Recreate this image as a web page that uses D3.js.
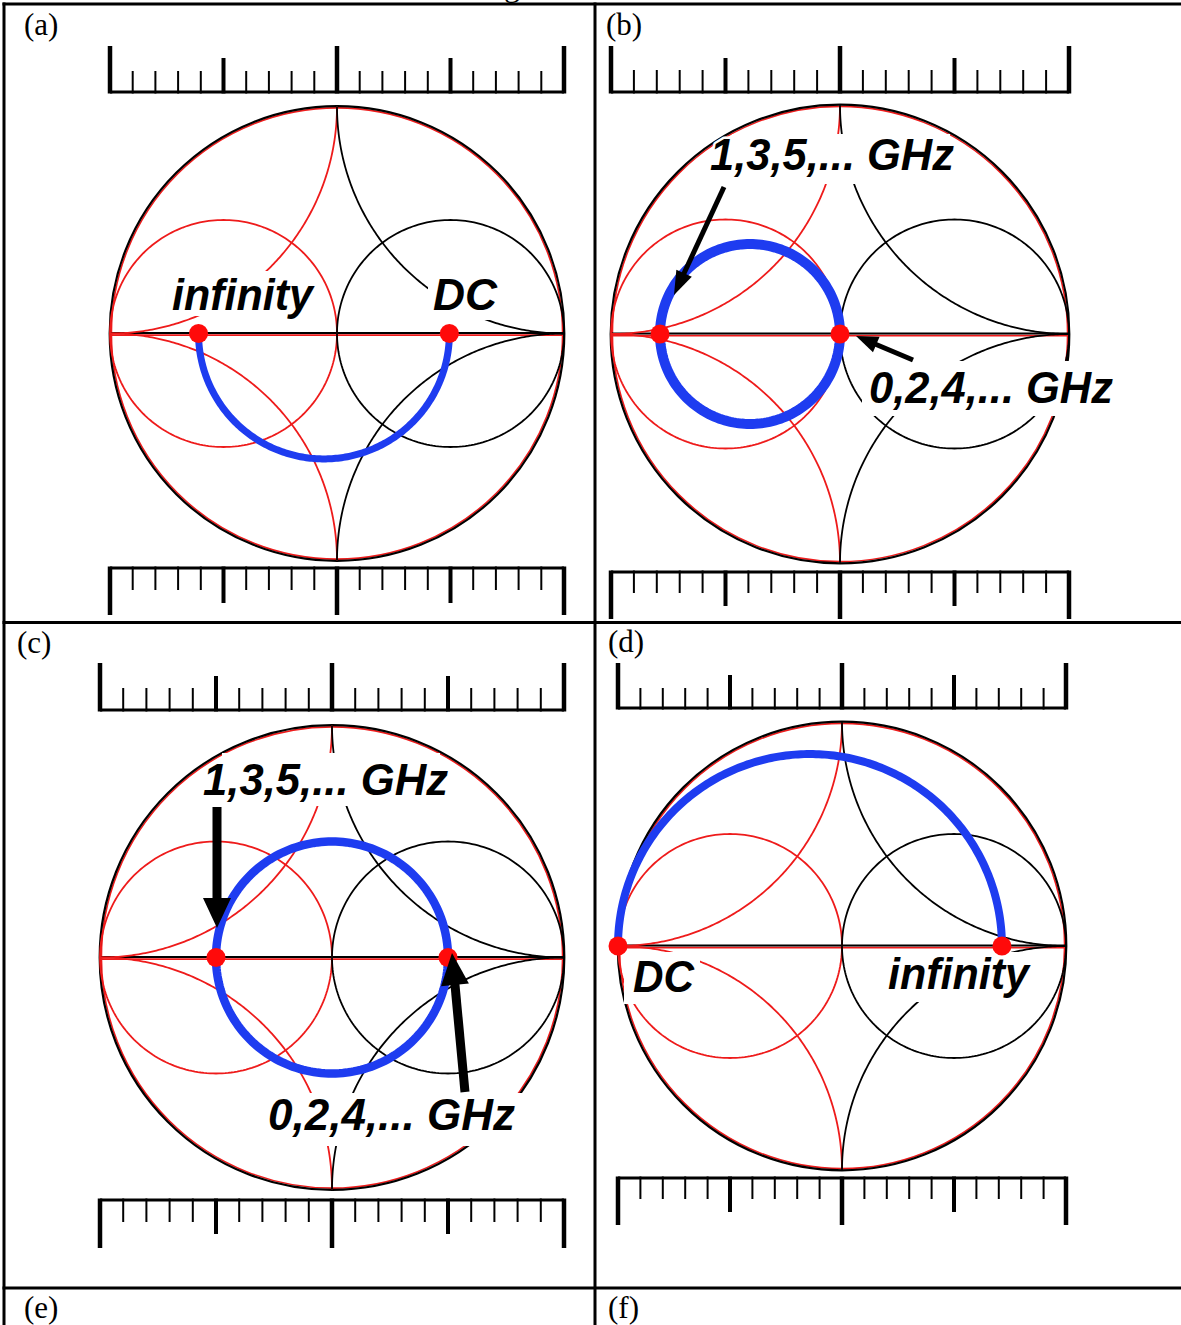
<!DOCTYPE html>
<html>
<head>
<meta charset="utf-8">
<script src="https://cdn.jsdelivr.net/npm/d3@7"></script>
<style>
  html, body { margin: 0; padding: 0; background: #fff; }
  svg { display: block; }
</style>
</head>
<body>
<svg id="fig" width="1181" height="1325"></svg>
<script>
// ---- data -------------------------------------------------------------
// Panel captions of the table cells
const panelCaptions = ["(a)", "(b)", "(c)", "(d)", "(e)", "(f)"];

// Reflection coefficient (real axis) of the two marked frequency points in each panel
const pointsA = [-0.61, 0.495];
const pointsB = [-0.786, 0];
const pointsC = [-0.5, 0.5];
const pointsD = [-1, 0.714];

// Part of the circle through the two points that the trajectory follows
const traceParts = ["lower", "full", "full", "upper"];

// Annotation texts of each panel
const textsA = ["infinity", "DC"];
const textsB = ["1,3,5,... GHz", "0,2,4,... GHz"];
const textsC = ["1,3,5,... GHz", "0,2,4,... GHz"];
const textsD = ["DC", "infinity"];

// Smith-chart grid: normalised resistance (conductance) circles and reactance (susceptance) arcs
const gridCircles = [1];
const gridArcs = [1, -1];

// Ruler scale: 20 divisions, medium tick every 5, long tick every 10
const rulerDivisions = 20;

// ---- layout -----------------------------------------------------------
const RED = "#ee1b1b";
const BLUE = "#1e3cf0";
const LABEL_FONT = "'Liberation Sans', Arial, sans-serif";
const CAPTION_FONT = "'Liberation Serif', 'Times New Roman', serif";

// chart centre / radius, ruler levels [baseline, small, medium, long], trace width
const panels = [
  { cx: 337, cy: 333.5, r: 227, top: [92, 71, 58, 46], bottom: [568, 590, 603, 615], trace: 7,
    points: pointsA, part: traceParts[0], texts: textsA,
    labels: [
      { dx: -165, base: -23.5, w: 141, box: [-172, -21, -62.5, -17.5] },
      { dx: 96, base: -23.5, w: 64, box: [91, 165, -61.5, -13.5] }
    ],
    arrows: [] },
  { cx: 840, cy: 334, r: 229, top: [92, 70, 58, 46], bottom: [572, 593, 606, 619], trace: 10,
    points: pointsB, part: traceParts[1], texts: textsB,
    labels: [
      { dx: -130, base: -164, w: 244, box: [-108, 110, -200, -150] },
      { dx: 29, base: 69, w: 244, box: [22, 278, 27, 82] }
    ],
    arrows: [
      { from: [-116, -147], to: [-166, -39], w: 5, hl: 24, hw: 17 },
      { from: [73, 26], to: [16, 2], w: 5, hl: 22, hw: 17 }
    ] },
  { cx: 332, cy: 957.5, r: 232, top: [710, 688, 676, 663], bottom: [1200, 1222, 1234, 1248], trace: 8.5,
    points: pointsC, part: traceParts[2], texts: textsC,
    labels: [
      { dx: -129, base: -162.5, w: 245, box: [-110, 108, -204.5, -151.5] },
      { dx: -64, base: 172.5, w: 247, box: [-70, 190, 135.5, 188.5] }
    ],
    arrows: [
      { from: [-115, -150.5], to: [-115, -29.5], w: 9, hl: 30, hw: 28 },
      { from: [133, 134.5], to: [120, -4.5], w: 9, hl: 32, hw: 28 }
    ] },
  { cx: 842, cy: 946, r: 224, top: [708, 688, 675, 663], bottom: [1178, 1199, 1212, 1225], trace: 8,
    points: pointsD, part: traceParts[3], texts: textsD,
    labels: [
      { dx: -209, base: 46, w: 61, box: [-218, -142, 6, 58] },
      { dx: 46, base: 43, w: 141, box: [38, 190, 6, 56] }
    ],
    arrows: [] }
];

const svg = d3.select("#fig");
svg.append("rect").attr("width", 1181).attr("height", 1325).attr("fill", "#fff");

// points of a circular arc in Γ coordinates
function arcPoints(c0, c1, rad, a0, a1, n) {
  return d3.range(n + 1).map(i => {
    const t = a0 + (a1 - a0) * i / n;
    return [c0 + rad * Math.cos(t), c1 + rad * Math.sin(t)];
  });
}

// impedance-grid curves (black); the admittance grid is its mirror image (red)
function impedanceCurves() {
  const curves = [];
  gridCircles.forEach(rv => {
    curves.push(arcPoints(rv / (1 + rv), 0, 1 / (1 + rv), 0, 2 * Math.PI, 240));
  });
  gridArcs.forEach(xv => {
    const c1 = 1 / xv, rad = 1 / Math.abs(xv);
    const px = (xv * xv - 1) / (xv * xv + 1), py = 2 * xv / (xv * xv + 1);
    const aStart = Math.atan2(py - c1, px - 1);
    const aCusp = Math.atan2(-c1, 0);
    let d = aCusp - aStart;
    while (d > Math.PI) d -= 2 * Math.PI;
    while (d <= -Math.PI) d += 2 * Math.PI;
    curves.push(arcPoints(1, c1, rad, aStart, aStart + d, 160));
  });
  return curves;
}

function drawPanel(p) {
  const sx = d3.scaleLinear().domain([-1, 1]).range([p.cx - p.r, p.cx + p.r]);
  const sy = d3.scaleLinear().domain([-1, 1]).range([p.cy + p.r, p.cy - p.r]);
  const line = d3.line().x(d => sx(d[0])).y(d => sy(d[1]));
  const g = svg.append("g");

  // outer |Γ| = 1 circle: red admittance chart under the black impedance chart
  g.append("circle").attr("cx", sx(0)).attr("cy", sy(0)).attr("r", p.r - 1.4)
    .attr("fill", "none").attr("stroke", RED).attr("stroke-width", 1.6);
  g.append("circle").attr("cx", sx(0)).attr("cy", sy(0)).attr("r", p.r + 0.3)
    .attr("fill", "none").attr("stroke", "#000").attr("stroke-width", 2.2);

  // real axis
  g.append("line").attr("x1", sx(-1)).attr("x2", sx(1))
    .attr("y1", sy(0) + 1.6).attr("y2", sy(0) + 1.6)
    .attr("stroke", RED).attr("stroke-width", 1.6);
  g.append("line").attr("x1", sx(-1)).attr("x2", sx(1))
    .attr("y1", sy(0) - 0.6).attr("y2", sy(0) - 0.6)
    .attr("stroke", "#000").attr("stroke-width", 2);

  const curves = impedanceCurves();
  curves.forEach(c => {
    g.append("path").attr("d", line(c.map(d => [-d[0], d[1]])))
      .attr("fill", "none").attr("stroke", RED).attr("stroke-width", 1.8);
  });
  curves.forEach(c => {
    g.append("path").attr("d", line(c))
      .attr("fill", "none").attr("stroke", "#000").attr("stroke-width", 1.8);
  });

  // white panels behind the annotation texts
  p.labels.forEach(l => {
    g.append("rect")
      .attr("x", p.cx + l.box[0]).attr("y", p.cy + l.box[2])
      .attr("width", l.box[1] - l.box[0]).attr("height", l.box[3] - l.box[2])
      .attr("fill", "#fff");
  });

  // trajectory: circle through the two marked points, centred on the real axis
  const c0 = (p.points[0] + p.points[1]) / 2;
  const rad = Math.abs(p.points[1] - p.points[0]) / 2;
  const range = p.part === "upper" ? [Math.PI, 0]
              : p.part === "lower" ? [Math.PI, 2 * Math.PI]
              : [0, 2 * Math.PI];
  g.append("path").attr("d", line(arcPoints(c0, 0, rad, range[0], range[1], 200)))
    .attr("fill", "none").attr("stroke", BLUE).attr("stroke-width", p.trace)
    .attr("stroke-linecap", "round");

  // marked points
  g.selectAll("circle.pt").data(p.points).enter().append("circle")
    .attr("class", "pt")
    .attr("cx", d => sx(d)).attr("cy", sy(0)).attr("r", 9.5)
    .attr("fill", "#ff0a0a");

  // annotation texts
  p.labels.forEach((l, i) => {
    g.append("text")
      .attr("x", p.cx + l.dx).attr("y", p.cy + l.base)
      .attr("font-family", LABEL_FONT).attr("font-weight", "bold")
      .attr("font-style", "italic").attr("font-size", 45)
      .attr("textLength", l.w).attr("lengthAdjust", "spacingAndGlyphs")
      .attr("fill", "#000").attr("stroke", "#fff").attr("stroke-width", 5)
      .attr("stroke-linejoin", "round").attr("paint-order", "stroke")
      .text(p.texts[i]);
  });

  // arrows
  p.arrows.forEach(a => {
    const x0 = p.cx + a.from[0], y0 = p.cy + a.from[1];
    const x1 = p.cx + a.to[0], y1 = p.cy + a.to[1];
    const len = Math.hypot(x1 - x0, y1 - y0);
    const ux = (x1 - x0) / len, uy = (y1 - y0) / len;
    const bx = x1 - ux * a.hl, by = y1 - uy * a.hl;
    g.append("line").attr("x1", x0).attr("y1", y0)
      .attr("x2", bx + ux * 2).attr("y2", by + uy * 2)
      .attr("stroke", "#000").attr("stroke-width", a.w);
    g.append("path")
      .attr("d", d3.line()([[x1, y1],
        [bx - uy * a.hw / 2, by + ux * a.hw / 2],
        [bx + uy * a.hw / 2, by - ux * a.hw / 2]]) + "Z")
      .attr("fill", "#000");
  });

  // rulers above and below the chart
  const rs = d3.scaleLinear().domain([0, rulerDivisions]).range([sx(-1), sx(1)]);
  const ticks = d3.range(rulerDivisions + 1);
  [p.top, p.bottom].forEach(lv => {
    const rg = svg.append("g");
    rg.append("line").attr("x1", rs(0)).attr("x2", rs(rulerDivisions))
      .attr("y1", lv[0]).attr("y2", lv[0])
      .attr("stroke", "#000").attr("stroke-width", 3);
    const dir = lv[3] > lv[0] ? 1 : -1;
    rg.selectAll("line.tk").data(ticks).enter().append("line")
      .attr("class", "tk")
      .attr("x1", d => rs(d)).attr("x2", d => rs(d))
      .attr("y1", lv[0] - dir * 1.5)
      .attr("y2", d => d % 10 === 0 ? lv[3] : d % 5 === 0 ? lv[2] : lv[1])
      .attr("stroke", "#000")
      .attr("stroke-width", d => d % 10 === 0 ? 4.5 : d % 5 === 0 ? 4 : 2);
  });
}

panels.forEach(drawPanel);

// ---- table frame and captions ------------------------------------------
const frame = svg.append("g").attr("stroke", "#000").attr("stroke-width", 3);
frame.append("line").attr("x1", 2.5).attr("x2", 1181).attr("y1", 4).attr("y2", 4);
frame.append("line").attr("x1", 4).attr("x2", 4).attr("y1", 2.5).attr("y2", 1325);
frame.append("line").attr("x1", 595).attr("x2", 595).attr("y1", 2.5).attr("y2", 1325);
frame.append("line").attr("x1", 2.5).attr("x2", 1181).attr("y1", 622.5).attr("y2", 622.5);
frame.append("line").attr("x1", 2.5).attr("x2", 1181).attr("y1", 1288).attr("y2", 1288);

const captionPos = [[24, 35], [606, 35], [17, 653], [608, 652], [24, 1318], [608, 1318]];
svg.selectAll("text.cap").data(panelCaptions).enter().append("text")
  .attr("class", "cap")
  .attr("x", (d, i) => captionPos[i][0]).attr("y", (d, i) => captionPos[i][1])
  .attr("font-family", CAPTION_FONT).attr("font-size", 31).attr("fill", "#000")
  .text(d => d);

// caption line above the table (only its lowest part lies on the page)
svg.append("text").attr("x", 504).attr("y", -4)
  .attr("font-family", CAPTION_FONT).attr("font-size", 32).attr("fill", "#000")
  .text("g");
</script>
</body>
</html>
